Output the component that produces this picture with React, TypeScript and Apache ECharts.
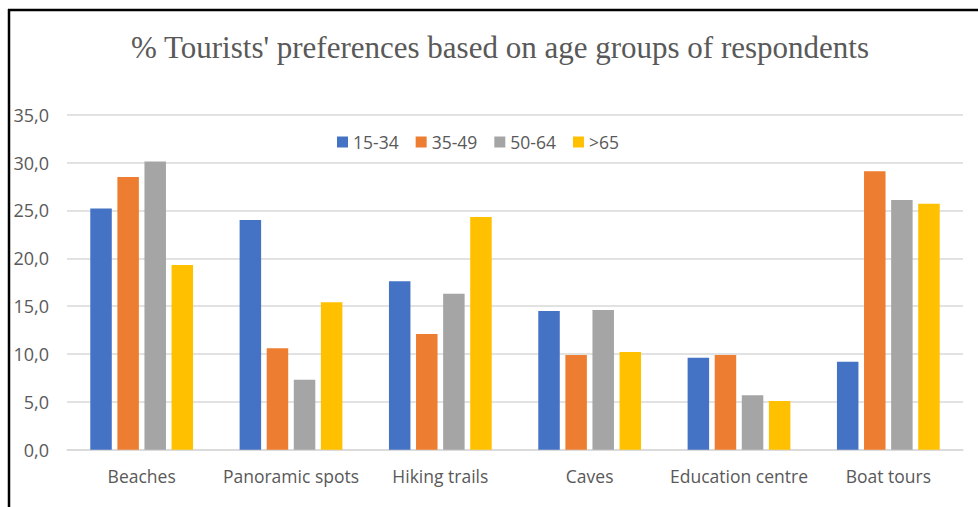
import React, { useEffect, useRef } from "react";
import * as echarts from "echarts";

const categories = ["Beaches", "Panoramic spots", "Hiking trails", "Caves", "Education centre", "Boat tours"];
const seriesNames = ["15-34", "35-49", "50-64", ">65"];
const age15to34 = [25.2, 24.0, 17.6, 14.5, 9.6, 9.2];
const age35to49 = [28.5, 10.6, 12.1, 9.9, 9.9, 29.1];
const age50to64 = [30.1, 7.3, 16.3, 14.6, 5.7, 26.1];
const age65plus = [19.3, 15.4, 24.3, 10.2, 5.1, 25.7];
const seriesValues = [age15to34, age35to49, age50to64, age65plus];
const colors = ["#4472C4", "#ED7D31", "#A5A5A5", "#FFC000"];
const titleText = "% Tourists' preferences based on age groups of respondents";

const FONT = "'Open Sans', sans-serif";
const TEXT = "#595959";

export default function App() {
  const ref = useRef<HTMLDivElement>(null);
  useEffect(() => {
    document.body.style.margin = "0";
    const chart = echarts.init(ref.current!, null, { renderer: "svg" });
    chart.setOption({
      animation: false,
      backgroundColor: "#ffffff",
      graphic: [
        { type: "line", shape: { x1: 8, y1: 10, x2: 978, y2: 10 }, style: { stroke: "#000", lineWidth: 2.5 } },
        { type: "line", shape: { x1: 9, y1: 9, x2: 9, y2: 507 }, style: { stroke: "#000", lineWidth: 2.5 } },
        {
          type: "text",
          x: 500,
          y: 47,
          style: {
            text: titleText,
            textAlign: "center",
            textVerticalAlign: "middle",
            fontFamily: "'Liberation Serif', 'Times New Roman', serif",
            fontSize: 31,
            fill: TEXT,
          },
        },
      ],
      legend: {
        data: seriesNames,
        left: 332,
        top: 128,
        itemWidth: 11,
        itemHeight: 11,
        itemGap: 17,
        icon: "rect",
        textStyle: { fontFamily: FONT, fontSize: 17.5, color: TEXT },
      },
      grid: { left: 67, right: 15, top: 114.7, bottom: 57.3 },
      xAxis: {
        type: "category",
        data: categories,
        axisLine: { show: true, lineStyle: { color: "#D9D9D9", width: 1.5 } },
        axisTick: { show: false },
        axisLabel: { fontFamily: FONT, fontSize: 17.5, color: TEXT, margin: 17, interval: 0 },
      },
      yAxis: {
        type: "value",
        min: 0,
        max: 35,
        interval: 5,
        axisLine: { show: false },
        axisTick: { show: false },
        splitLine: { lineStyle: { color: "#D9D9D9", width: 1.5 } },
        axisLabel: {
          fontFamily: FONT,
          fontSize: 18,
          color: TEXT,
          margin: 18,
          formatter: (v: number) => v.toFixed(1).replace(".", ","),
        },
      },
      series: seriesNames.map((name, i) => ({
        name,
        type: "bar",
        data: seriesValues[i],
        barWidth: 21.5,
        barGap: "26%",
        itemStyle: { color: colors[i] },
      })),
    });
    return () => chart.dispose();
  }, []);
  return <div ref={ref} style={{ width: 978, height: 507 }} />;
}
